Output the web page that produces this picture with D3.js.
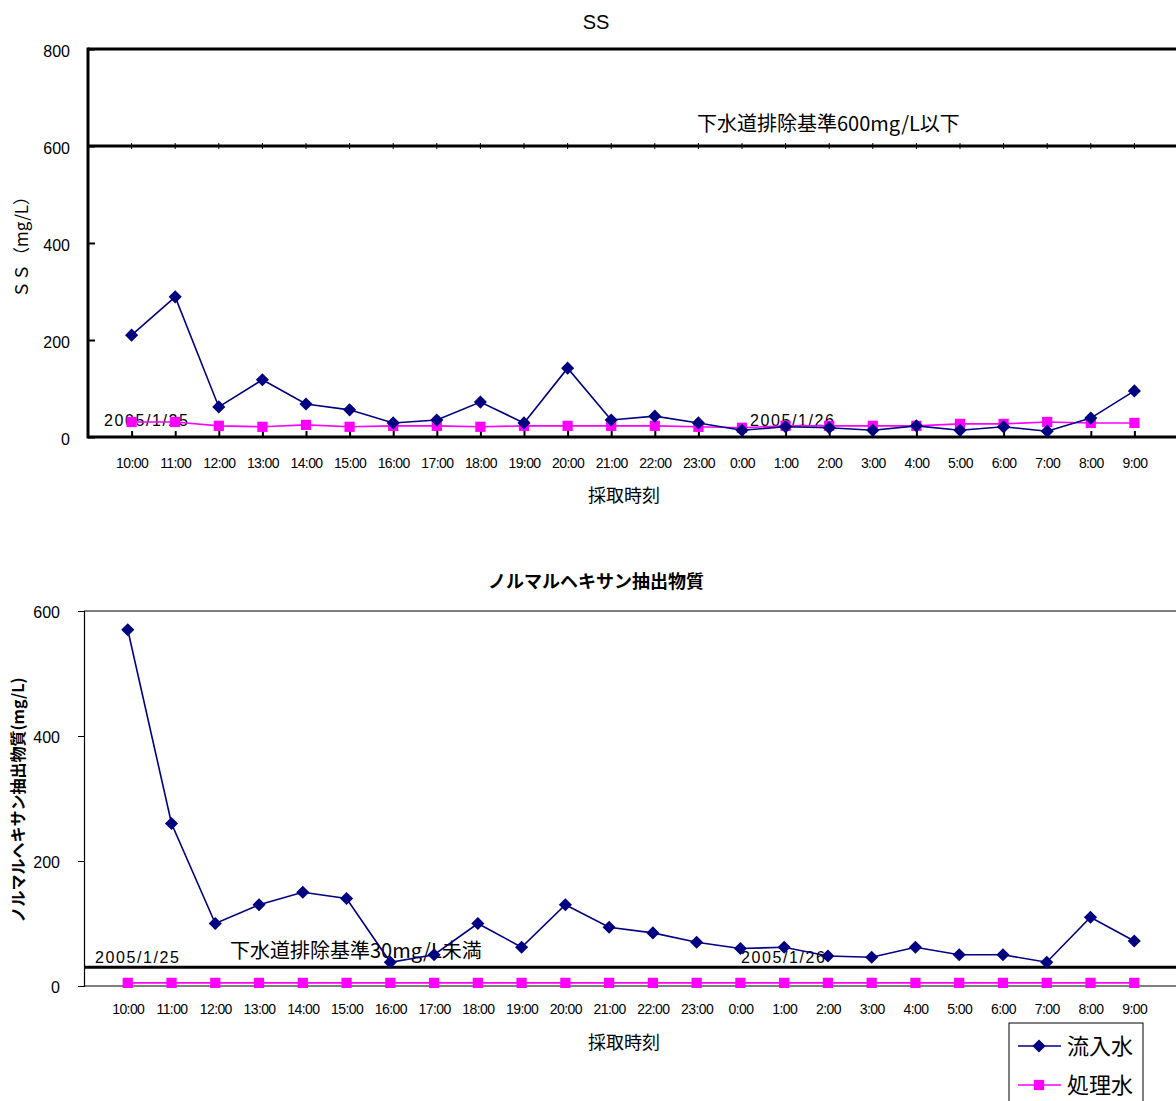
<!DOCTYPE html>
<html>
<head>
<meta charset="utf-8">
<script src="https://cdn.jsdelivr.net/npm/d3@7"></script>
<style>
  body { margin: 0; background: #fff; }
  text { font-family: "Liberation Sans", Arial, "Noto Sans CJK JP", sans-serif; fill: #000; }
  .jp { font-family: "Noto Sans CJK JP", sans-serif; }
</style>
</head>
<body>
<div id="chart"></div>
<script>
// 採取時刻
const times = ['10:00','11:00','12:00','13:00','14:00','15:00','16:00','17:00','18:00','19:00','20:00','21:00',
  '22:00','23:00','0:00','1:00','2:00','3:00','4:00','5:00','6:00','7:00','8:00','9:00'];

// SS (mg/L)
const ssInflow = [210, 289, 62, 118, 68, 56, 29, 35, 72, 29, 142, 35, 43, 29, 14, 21, 19, 14, 23, 14, 21, 12, 39, 95];
const ssTreated = [31, 31, 23, 21, 25, 21, 23, 23, 21, 23, 23, 23, 23, 21, 19, 23, 23, 23, 23, 27, 27, 31, 29, 29];
const ssTicks = [0, 200, 400, 600, 800];
const ssLimit = 600;

// ノルマルヘキサン抽出物質 (mg/L)
const nhInflow = [570, 260, 100, 130, 150, 140, 38, 50, 100, 62, 130, 94, 85, 70, 60, 62, 48, 46, 62, 50, 50, 38, 110, 72];
const nhTreated = [5, 5, 5, 5, 5, 5, 5, 5, 5, 5, 5, 5, 5, 5, 5, 5, 5, 5, 5, 5, 5, 5, 5, 5];
const nhTicks = [0, 200, 400, 600];
const nhLimit = 30;

const seriesNames = ['流入水', '処理水'];
const NAVY = '#000080', MAG = '#ff00ff';

const svg = d3.select('#chart').append('svg')
    .attr('width', 1176)
    .attr('height', 1101);

const diamond = d3.symbol().type(d3.symbolDiamond2 || d3.symbolDiamond).size(110);
const square = d3.symbol().type(d3.symbolSquare).size(105);

function drawSeries(g, x, y, vals, color, sym) {
    const line = d3.line().x((d, i) => x(times[i])).y(d => y(d));
    g.append('path').datum(vals)
        .attr('d', line).attr('fill', 'none')
        .attr('stroke', color).attr('stroke-width', 1.6);
    g.selectAll(null).data(vals).enter().append('path')
        .attr('d', sym)
        .attr('transform', (d, i) => `translate(${x(times[i])},${y(d)})`)
        .attr('fill', color);
}

// ---------- 上段 : SS ----------
const x1 = d3.scalePoint().domain(times).range([88, 1178]).padding(1);
const y1 = d3.scaleLinear().domain([0, 800]).range([437, 49]);
const g1 = svg.append('g');

g1.append('text').attr('x', 596).attr('y', 29).attr('text-anchor', 'middle')
    .style('font-size', '20px').text('SS');

// y軸（内向き目盛）
const ay1 = g1.append('g').attr('transform', 'translate(88,0)')
    .call(d3.axisLeft(y1).tickValues(ssTicks).tickSize(-7).tickPadding(18).tickFormat(d3.format('d')));
ay1.select('.domain').remove();
ay1.selectAll('line').attr('stroke', '#000').attr('stroke-width', 2);
ay1.selectAll('text').style('font-size', '16px').attr('dy', '0.45em');

// x軸（内向き目盛）
const ax1 = g1.append('g').attr('transform', 'translate(0,437)')
    .call(d3.axisBottom(x1).tickSize(-6).tickPadding(21));
ax1.select('.domain').remove();
ax1.selectAll('line').attr('stroke', '#000').attr('stroke-width', 2);
ax1.selectAll('text').style('font-size', '14px').style('letter-spacing', '-0.6px');

// 枠
g1.append('line').attr('x1', 88).attr('x2', 1176).attr('y1', y1(800)).attr('y2', y1(800))
    .attr('stroke', '#000').attr('stroke-width', 3);
g1.append('line').attr('x1', 88).attr('x2', 88).attr('y1', y1(800) - 1.5).attr('y2', y1(0) + 1.5)
    .attr('stroke', '#000').attr('stroke-width', 3);
g1.append('line').attr('x1', 88).attr('x2', 1176).attr('y1', y1(0)).attr('y2', y1(0))
    .attr('stroke', '#000').attr('stroke-width', 3);

// 基準線 600
g1.append('line').attr('x1', 88).attr('x2', 1176).attr('y1', y1(ssLimit)).attr('y2', y1(ssLimit))
    .attr('stroke', '#000').attr('stroke-width', 3);
g1.selectAll(null).data(times).enter().append('line')
    .attr('x1', d => x1(d)).attr('x2', d => x1(d))
    .attr('y1', y1(ssLimit) - 3).attr('y2', y1(ssLimit) + 3)
    .attr('stroke', '#000').attr('stroke-width', 1);
g1.append('text').attr('class', 'jp').attr('x', 697).attr('y', 131)
    .style('font-size', '20px').text('下水道排除基準600mg/L以下');

g1.append('text').attr('x', 104).attr('y', 426).style('font-size', '16px')
    .style('letter-spacing', '1.6px').text('2005/1/25');
g1.append('text').attr('x', 750).attr('y', 426).style('font-size', '16px')
    .style('letter-spacing', '1.6px').text('2005/1/26');

drawSeries(g1, x1, y1, ssTreated, MAG, square);
drawSeries(g1, x1, y1, ssInflow, NAVY, diamond);

g1.append('text').attr('class', 'jp').attr('transform', 'translate(28,243) rotate(-90)')
    .attr('text-anchor', 'middle').style('font-size', '17px').text('ＳＳ（mg/L）');
g1.append('text').attr('class', 'jp').attr('x', 624).attr('y', 502).attr('text-anchor', 'middle')
    .style('font-size', '18px').text('採取時刻');

// ---------- 下段 : ノルマルヘキサン抽出物質 ----------
const x2 = d3.scalePoint().domain(times).range([84, 1178]).padding(1);
const y2 = d3.scaleLinear().domain([0, 600]).range([986, 611]);
const g2 = svg.append('g');

g2.append('text').attr('class', 'jp').attr('x', 596).attr('y', 588).attr('text-anchor', 'middle')
    .style('font-size', '18px').style('font-weight', 'bold').text('ノルマルヘキサン抽出物質');

const ay2 = g2.append('g').attr('transform', 'translate(84,0)')
    .call(d3.axisLeft(y2).tickValues(nhTicks).tickSize(6).tickPadding(18).tickFormat(d3.format('d')));
ay2.select('.domain').attr('stroke', '#000').attr('stroke-width', 1.2);
ay2.selectAll('line').attr('stroke', '#000');
ay2.selectAll('text').style('font-size', '16px').attr('dy', '0.4em');

const ax2 = g2.append('g').attr('transform', 'translate(0,986)')
    .call(d3.axisBottom(x2).tickSize(0).tickPadding(18));
ax2.select('.domain').remove();
ax2.selectAll('text').style('font-size', '14px').style('letter-spacing', '-0.6px');

g2.append('line').attr('x1', 84).attr('x2', 1176).attr('y1', y2(600)).attr('y2', y2(600))
    .attr('stroke', '#000').attr('stroke-width', 1.2);
g2.append('line').attr('x1', 84).attr('x2', 1176).attr('y1', y2(0)).attr('y2', y2(0))
    .attr('stroke', '#000').attr('stroke-width', 1.2);

// 基準線 30
g2.append('line').attr('x1', 84).attr('x2', 1176).attr('y1', y2(nhLimit)).attr('y2', y2(nhLimit))
    .attr('stroke', '#000').attr('stroke-width', 3);
g2.append('text').attr('class', 'jp').attr('x', 230).attr('y', 958)
    .style('font-size', '20px').text('下水道排除基準30mg/L未満');
g2.append('text').attr('x', 95).attr('y', 963).style('font-size', '16px')
    .style('letter-spacing', '1.6px').text('2005/1/25');
g2.append('text').attr('x', 741).attr('y', 963).style('font-size', '16px')
    .style('letter-spacing', '1.6px').text('2005/1/26');

drawSeries(g2, x2, y2, nhTreated, MAG, square);
drawSeries(g2, x2, y2, nhInflow, NAVY, diamond);

g2.append('text').attr('class', 'jp').attr('transform', 'translate(24,800) rotate(-90)')
    .attr('text-anchor', 'middle').style('font-size', '16px').style('font-weight', 'bold')
    .text('ノルマルヘキサン抽出物質(mg/L)');
g2.append('text').attr('class', 'jp').attr('x', 624).attr('y', 1049).attr('text-anchor', 'middle')
    .style('font-size', '18px').text('採取時刻');

// ---------- 凡例 ----------
const lg = svg.append('g').attr('transform', 'translate(1009,1023)');
lg.append('rect').attr('width', 134).attr('height', 100)
    .attr('fill', '#fff').attr('stroke', '#000').attr('stroke-width', 1);
const items = lg.selectAll(null).data(seriesNames).enter().append('g')
    .attr('transform', (d, i) => `translate(0,${23 + i * 39})`);
items.append('line').attr('x1', 9).attr('x2', 52)
    .attr('stroke', (d, i) => i ? MAG : NAVY).attr('stroke-width', 1.6);
items.append('path').attr('d', (d, i) => i ? square() : diamond())
    .attr('transform', 'translate(30,0)').attr('fill', (d, i) => i ? MAG : NAVY);
items.append('text').attr('class', 'jp').attr('x', 58).attr('y', 8)
    .style('font-size', '22px').text(d => d);
</script>
</body>
</html>
